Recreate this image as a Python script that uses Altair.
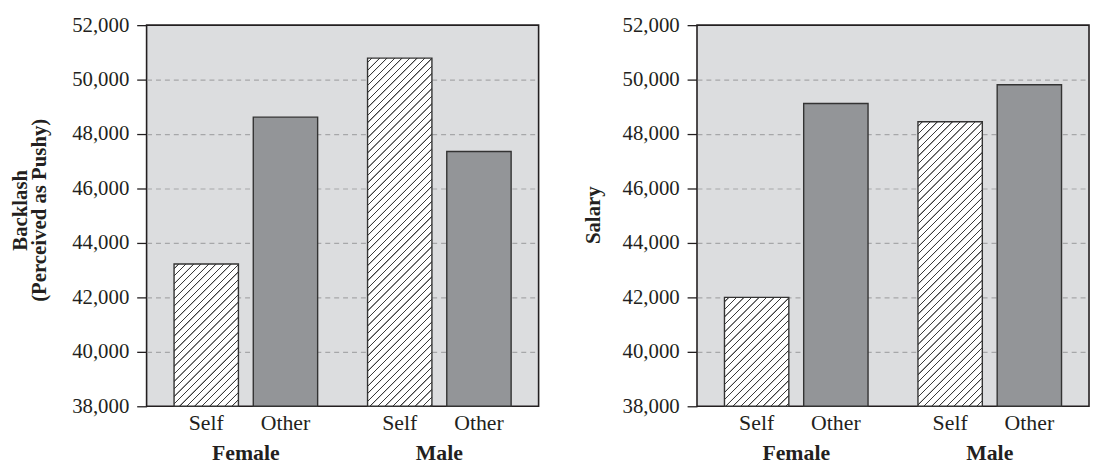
import altair as alt
import pandas as pd

# ---- data ----
genders = ["Female", "Female", "Male", "Male"]
roles = ["Self", "Other", "Self", "Other"]
backlash = [43225, 48620, 50790, 47360]
salary = [42000, 49120, 48450, 49810]
y_ticks = [38000, 40000, 42000, 44000, 46000, 48000, 50000, 52000]

# ---- style / layout ----
FONT = "Liberation Serif"
INK = "#231f20"
BG = "#dcdddf"
OTHER = "#939598"
STRIPE = "#3a3a3a"
PW, PH = 396, 385
Y0, Y1 = 38000, 52000
PI, PO = 0.258, 0.142
PI2, PO2 = 0.1875, 0.0

# bar width in px (for the hatch gradient geometry)
step = PW / (2 - PI + 2 * PO)
bw = step * (1 - PI)
step2 = bw / (2 - PI2 + 2 * PO2)
BAR_W = step2 * (1 - PI2)

L = 480.0      # gradient length in (X+Y) px
PERIOD = 7.6   # stripe spacing (horizontal px)
TH = 1.6       # stripe thickness in (X+Y) px


def hatch_stops():
    out = ["{offset:0,color:'#ffffff'}"]
    s = PERIOD / 2
    while s + TH + 0.5 < L:
        a = s / L
        b = (s + 0.4) / L
        c = (s + TH - 0.4) / L
        d = (s + TH) / L
        out.append(f"{{offset:{a:.5f},color:'#ffffff'}}")
        out.append(f"{{offset:{b:.5f},color:'{STRIPE}'}}")
        out.append(f"{{offset:{c:.5f},color:'{STRIPE}'}}")
        out.append(f"{{offset:{d:.5f},color:'#ffffff'}}")
        s += PERIOD
    out.append("{offset:1,color:'#ffffff'}")
    return ",".join(out)


def fill_expr():
    H = f"((datum.value-{Y0})/{Y1 - Y0}*{PH})"
    den = f"({BAR_W * BAR_W:.4f}+{H}*{H})"
    x2 = f"{L * BAR_W:.4f}/{den}"
    y2 = f"{L}*{H}/{den}"
    grad = f"{{gradient:'linear',x1:0,y1:0,x2:{x2},y2:{y2},stops:[{hatch_stops()}]}}"
    return f"datum.Role == 'Self' ? {grad} : '{OTHER}'"


FILL = fill_expr()


def panel(vals, ytitle, title_x, title_y):
    df = pd.DataFrame({"Gender": genders, "Role": roles, "value": vals})
    base = alt.Chart(df)
    x_enc = alt.X(
        "Gender:N",
        sort=["Female", "Male"],
        scale=alt.Scale(paddingInner=PI, paddingOuter=PO),
        axis=alt.Axis(
            title=None, labelAngle=0, ticks=False, tickSize=0, domain=False,
            labelFont=FONT, labelFontSize=22, labelFontWeight="bold",
            labelColor=INK, labelPadding=54, labelBaseline="alphabetic",
        ),
    )
    xo_enc = alt.XOffset(
        "Role:N", sort=["Self", "Other"],
        scale=alt.Scale(paddingInner=PI2, paddingOuter=PO2),
    )
    bars = base.mark_bar(
        fill={"expr": FILL}, stroke="#333333", strokeWidth=1.4
    ).encode(
        x=x_enc,
        xOffset=xo_enc,
        y=alt.Y(
            "value:Q",
            scale=alt.Scale(domain=[Y0, Y1], zero=False, nice=False),
            axis=alt.Axis(
                values=y_ticks, format=",.0f", title=ytitle,
                grid=True, gridDash=[5, 4], gridColor="#a6a7a9", gridWidth=1.2,
                gridOpacity={"condition": {"test": f"datum.value > {Y0} && datum.value < {Y1}", "value": 1}, "value": 0},
                domain=False, ticks=True, tickSize=10, tickColor=INK, tickWidth=1.3,
                labelFont=FONT, labelFontSize=21, labelColor=INK, labelPadding=8,
                titleFont=FONT, titleFontSize=21, titleFontWeight="bold", titleColor=INK,
                titleAngle=270, titleAlign="center", titleBaseline="alphabetic",
                titleX=title_x, titleY=title_y, titleLineHeight=19.5,
            ),
        ),
        y2=alt.datum(Y0),
    )
    labels = base.mark_text(
        font=FONT, fontSize=22, color=INK, baseline="alphabetic", align="center"
    ).encode(
        x=alt.X("Gender:N", sort=["Female", "Male"]),
        xOffset=alt.XOffset("Role:N", sort=["Self", "Other"]),
        y=alt.value(PH + 24),
        text="Role:N",
    )
    return alt.layer(bars, labels).properties(width=PW, height=PH)


left = panel(backlash, ["Backlash", "(Perceived as Pushy)"], -121.7, 186.5)
right = panel(salary, "Salary", -98.3, 191.5)

chart = (
    alt.hconcat(left, right, spacing=42)
    .properties(padding={"left": 0, "top": 3, "right": 0, "bottom": 0})
    .configure_view(fill=BG, stroke=INK, strokeWidth=1.6)
)

chart.save("out.html", embed_options={"renderer": "svg", "actions": False})
